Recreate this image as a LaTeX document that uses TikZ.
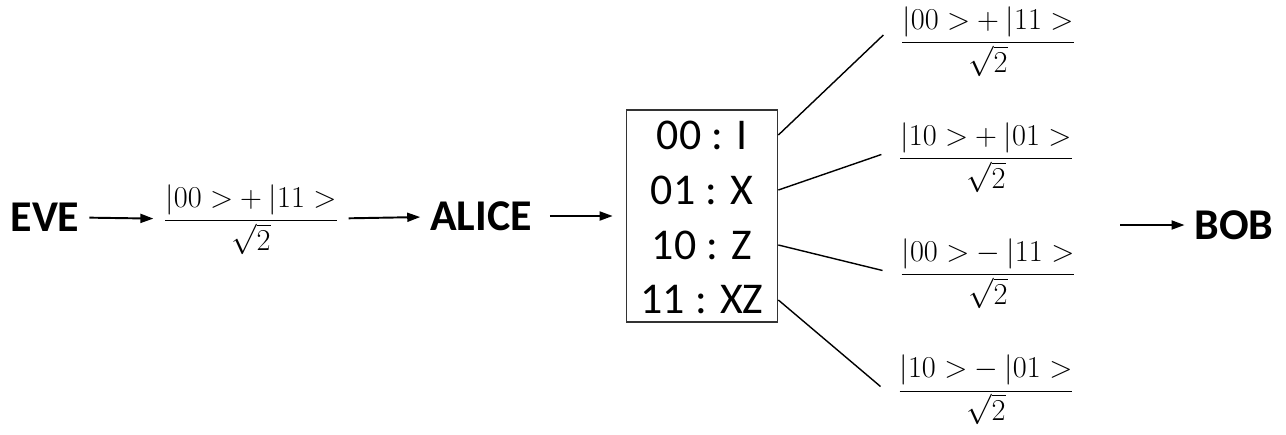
\documentclass[tikz,border=0pt]{standalone}
\usepackage[no-math]{fontspec}
\setmainfont{Carlito}
\usetikzlibrary{
    positioning,
    arrows.meta
}

\tikzset{
    party/.style={font=\fontsize{25}{30}\selectfont\bfseries, inner sep=0pt, outer sep=0.2cm},
    ket/.style={font=\fontsize{17}{20}\selectfont, inner sep=0pt, outer sep=0.2cm},
    gatebox/.style={draw=black!80, line width=1pt, minimum width=3.02cm, minimum height=4.24cm, inner sep=0pt},
    gate/.style={font=\fontsize{25}{30}\selectfont, inner sep=0pt},
    flow/.style={line width=1.1pt, -{Triangle[length=0.26cm, width=0.18cm]}},
    branch/.style={line width=0.8pt}
}

% Bell state (|a> +/- |b>)/sqrt2
\newcommand{\bell}[3]{$\displaystyle\frac{{\mathopen{|}#1>} #2 {\mathopen{|}#3>}}{\sqrt{2}}$}

\begin{document}
\begin{tikzpicture}[x=0.02cm, y=-0.02cm]
        \useasboundingbox (0,0) rectangle (1286,434);

        % Eve lager paret og sender til Alice
        \node[party] (eve) at (45,217) {EVE};
        \node[ket] (pair) at (251,220) {\bell{00}{+}{11}};
        \node[party] (alice) at (481,216) {ALICE};

        % Alices koding av to bit
        \node[gatebox] (gates) at (702,216) {};
        \node[gate] (g1) at (702,135) {00 : I};
        \node[gate] (g2) at (702,190) {01 : X};
        \node[gate] (g3) at (702,245) {10 : Z};
        \node[gate] (g4) at (702,300) {11 : XZ};

        % Resulterende tilstander
        \node[ket, outer sep=0.34cm] (s1) at (988,42) {\bell{00}{+}{11}};
        \node[ket, outer sep=0.34cm] (s2) at (986,158) {\bell{10}{+}{01}};
        \node[ket, outer sep=0.34cm] (s3) at (988,274) {\bell{00}{-}{11}};
        \node[ket, outer sep=0.34cm] (s4) at (986,390) {\bell{10}{-}{01}};

        % Bob mottar
        \node[party] (bob) at (1234,225) {BOB};
        \coordinate (tobob) at (1120,225);

        \draw[flow] (eve) -- (pair);
        \draw[flow] (pair) -- (alice);
        \draw[flow, shorten <=0.16cm, shorten >=0.26cm] (alice) -- (gates);

        \draw[branch] (gates.east |- g1) -- ([yshift=4pt]s1.west);
        \draw[branch] (gates.east |- g2) -- ([yshift=2pt]s2.west);
        \draw[branch] (gates.east |- g3) -- ([yshift=2pt]s3.west);
        \draw[branch] (gates.east |- g4) -- ([yshift=2pt]s4.west);

        \draw[flow] (tobob) -- (bob);
    \end{tikzpicture}
\end{document}
